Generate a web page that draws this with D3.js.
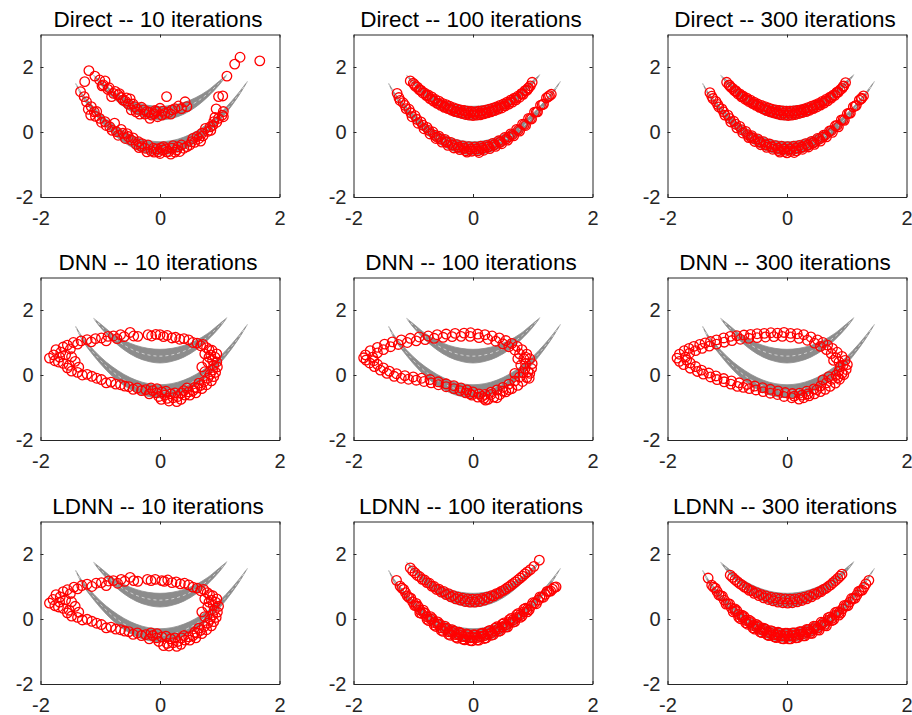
<!DOCTYPE html>
<html>
<head>
<meta charset="UTF-8">
<title>Direct / DNN / LDNN samples</title>
<script src="https://cdn.jsdelivr.net/npm/d3@7/dist/d3.min.js"></script>
<style>
body { margin: 0; background: #fff; }
</style>
</head>
<body>
<div id="chart"></div>
<script>
var methods = ["Direct", "DNN", "LDNN"];
var iterations = [10, 100, 300];
var xTicks = [-2, 0, 2];
var yTicks = [-2, 0, 2];

// gray target crescents: x, lower edge, upper edge
var upperMoonX  = [-1.11, -1.0, -0.8, -0.6, -0.4, -0.2, 0.0, 0.2, 0.4, 0.6, 0.8, 1.0, 1.12];
var upperMoonLo = [1.74, 1.47, 1.08, 0.77, 0.55, 0.42, 0.37, 0.42, 0.55, 0.77, 1.08, 1.47, 1.76];
var upperMoonHi = [1.74, 1.58, 1.28, 1.06, 0.91, 0.82, 0.79, 0.82, 0.91, 1.06, 1.28, 1.58, 1.76];
var lowerMoonX  = [-1.41, -1.3, -1.1, -0.9, -0.7, -0.5, -0.3, -0.1, 0.1, 0.3, 0.5, 0.7, 0.9, 1.1, 1.3, 1.46];
var lowerMoonLo = [1.49, 1.07, 0.57, 0.15, -0.19, -0.44, -0.61, -0.69, -0.69, -0.61, -0.44, -0.19, 0.15, 0.57, 1.07, 1.55];
var lowerMoonHi = [1.49, 1.17, 0.75, 0.40, 0.13, -0.08, -0.22, -0.29, -0.29, -0.22, -0.08, 0.13, 0.40, 0.75, 1.17, 1.55];

// red sample points [x, y]
var direct10 = [
  [-1.19,1.89],[-1.26,1.55],[-1.09,1.72],[-1.01,1.60],[-0.92,1.57],[-0.97,1.42],[-0.87,1.31],[-0.78,1.19],[-0.81,1.09],[-0.70,1.14],
  [-0.62,0.98],[-0.50,1.02],[-0.53,0.86],[-0.42,0.78],[-0.48,0.68],[-0.31,0.76],[-0.22,0.63],[-0.14,0.52],[-0.06,0.63],[0.00,0.73],
  [0.11,1.09],[0.08,0.57],[0.20,0.68],[0.31,0.80],[0.42,0.93],[0.45,0.78],[-0.17,0.42],[-0.34,0.55],[-0.95,1.45],[-0.85,1.36],
  [-0.75,1.25],[-0.65,1.06],[-0.58,0.95],[-0.45,0.86],[-0.38,0.70],[-0.27,0.68],[-0.18,0.60],[-0.10,0.56],[0.05,0.64],[0.14,0.60],
  [0.25,0.72],[0.36,0.72],[0.03,0.52],[-0.04,0.47],[-0.68,1.18],[-0.56,1.05],[-0.25,0.55],[-0.08,0.66],[0.18,0.55],[-0.40,0.62],
  [1.12,1.72],[1.25,2.09],[1.34,2.30],[1.67,2.19],[0.98,1.09],[1.05,1.11],[0.94,0.71],[1.06,0.47],
  [-1.33,1.24],[-1.27,1.09],[-1.23,0.93],[-1.15,0.78],[-1.16,0.52],[-1.06,0.63],[-1.01,0.42],[-0.92,0.32],[-0.84,0.16],[-0.76,0.27],
  [-0.73,0.01],[-0.62,-0.04],[-0.53,-0.14],[-0.48,-0.25],[-0.36,-0.30],[-0.31,-0.45],[-0.22,-0.61],[-0.20,-0.40],[-0.11,-0.50],[-0.03,-0.61],
  [0.06,-0.45],[0.11,-0.61],[0.20,-0.50],[0.28,-0.55],[0.36,-0.40],[0.45,-0.45],[0.53,-0.30],[0.62,-0.14],[0.70,-0.04],[0.76,0.11],
  [0.84,0.16],[0.90,0.32],[0.98,0.42],[1.04,0.52],[1.06,0.63],
  [-0.40,-0.38],[-0.25,-0.50],[-0.15,-0.58],[-0.05,-0.52],[0.00,-0.66],[0.05,-0.55],[0.15,-0.60],[0.25,-0.62],[0.30,-0.46],[0.40,-0.50],
  [0.50,-0.40],[0.58,-0.32],[0.65,-0.20],[0.72,-0.12],[0.80,0.02],[0.88,0.20],[0.95,0.30],[-0.70,-0.10],[-0.65,0.08],[-0.90,0.20],
  [-1.10,0.62],[-1.20,0.70],[-0.45,-0.18],[-0.30,-0.36],[0.10,-0.52],[-0.10,-0.62],[0.18,-0.68],[-0.58,-0.20],[-0.98,0.30],[-1.08,0.48],
  [0.68,-0.28],[0.85,0.05],[-0.80,0.05],[-0.35,-0.48],[0.22,-0.42],[0.02,-0.48],[0.33,-0.60],[0.55,-0.20],[-0.55,-0.05],[0.92,0.45]
];

var direct100 = [
  [-1.05,1.57],[-1.00,1.50],[-0.96,1.40],[-0.93,1.38],[-0.90,1.30],[-0.87,1.28],[-0.84,1.20],[-0.81,1.20],[-0.78,1.12],[-0.75,1.14],
  [-0.72,1.03],[-0.69,1.08],[-0.66,0.95],[-0.63,1.00],[-0.60,0.88],[-0.57,0.95],[-0.54,0.82],[-0.51,0.88],[-0.48,0.76],[-0.45,0.84],
  [-0.42,0.72],[-0.39,0.79],[-0.36,0.67],[-0.33,0.75],[-0.30,0.63],[-0.27,0.71],[-0.24,0.60],[-0.21,0.68],[-0.18,0.57],[-0.15,0.66],
  [-0.12,0.54],[-0.09,0.64],[-0.06,0.52],[-0.03,0.63],[0.00,0.51],[0.03,0.62],[0.06,0.52],[0.09,0.64],[0.12,0.53],[0.15,0.65],
  [0.18,0.56],[0.21,0.67],[0.24,0.59],[0.27,0.70],[0.30,0.62],[0.33,0.73],[0.36,0.66],[0.39,0.77],[0.42,0.70],[0.45,0.82],
  [0.48,0.74],[0.51,0.86],[0.54,0.80],[0.57,0.92],[0.60,0.86],[0.63,0.98],[0.66,0.92],[0.69,1.04],[0.72,0.99],[0.75,1.10],
  [0.78,1.07],[0.81,1.18],[0.84,1.16],[0.87,1.27],[0.90,1.28],[0.93,1.36],[0.96,1.42],[0.99,1.53],
  [-1.27,1.19],[-1.22,0.97],[-1.17,0.90],[-1.12,0.72],[-1.07,0.70],[-1.02,0.47],[-0.97,0.50],[-0.92,0.27],[-0.87,0.31],[-0.82,0.10],
  [-0.77,0.14],[-0.72,-0.06],[-0.67,0.00],[-0.62,-0.20],[-0.57,-0.13],[-0.52,-0.31],[-0.47,-0.23],[-0.42,-0.41],[-0.37,-0.32],[-0.32,-0.49],
  [-0.27,-0.39],[-0.22,-0.54],[-0.17,-0.43],[-0.12,-0.58],[-0.07,-0.45],[-0.02,-0.59],[0.03,-0.46],[0.08,-0.58],[0.13,-0.44],[0.18,-0.56],
  [0.23,-0.41],[0.28,-0.51],[0.33,-0.35],[0.38,-0.44],[0.43,-0.27],[0.48,-0.36],[0.53,-0.17],[0.58,-0.25],[0.63,-0.06],[0.68,-0.12],
  [0.73,0.08],[0.78,0.03],[0.83,0.24],[0.88,0.20],[0.93,0.42],[0.98,0.40],[1.03,0.61],[1.08,0.62],[1.13,0.82],[1.18,0.86],
  [1.23,1.05],[1.28,1.12],[1.31,1.16],
  [-0.45,-0.30],[-0.35,-0.40],[-0.25,-0.47],[-0.15,-0.50],[-0.05,-0.53],[0.05,-0.52],[0.15,-0.50],[0.25,-0.46],[0.35,-0.40],[0.45,-0.31],
  [-0.60,-0.16],[0.60,-0.15],[-0.10,-0.62],[0.10,-0.63]
];
var direct100Fill = [
  [-1.24,1.06],[-1.14,0.82],[-1.04,0.59],[-0.94,0.39],[-0.84,0.21],[-0.74,0.05],[-0.64,-0.10],[-0.54,-0.22],[-0.44,-0.32],[-0.34,-0.40],
  [-0.24,-0.46],[-0.14,-0.50],[-0.04,-0.52],[0.06,-0.52],[0.16,-0.50],[0.26,-0.45],[0.36,-0.39],[0.46,-0.31],[0.56,-0.21],[0.66,-0.08],
  [0.76,0.06],[0.86,0.23],[0.96,0.41],[1.06,0.62],[1.16,0.84],[1.26,1.09],
  [-0.98,1.46],[-0.88,1.29],[-0.78,1.14],[-0.68,1.00],[-0.58,0.88],[-0.48,0.79],[-0.38,0.71],[-0.28,0.64],[-0.18,0.60],[-0.08,0.58],
  [0.02,0.57],[0.12,0.58],[0.22,0.61],[0.32,0.66],[0.42,0.73],[0.52,0.81],[0.62,0.92],[0.72,1.04],[0.82,1.18],[0.92,1.34]
];

var direct300 = [
  [-1.01,1.53],[-0.97,1.45],[-0.94,1.38],[-0.91,1.34],[-0.88,1.27],[-0.85,1.24],[-0.82,1.17],[-0.79,1.17],[-0.76,1.08],[-0.73,1.10],
  [-0.70,1.01],[-0.67,1.04],[-0.64,0.94],[-0.61,0.98],[-0.58,0.88],[-0.55,0.92],[-0.52,0.82],[-0.49,0.86],[-0.46,0.76],[-0.43,0.82],
  [-0.40,0.71],[-0.37,0.78],[-0.34,0.66],[-0.31,0.74],[-0.28,0.62],[-0.25,0.70],[-0.22,0.59],[-0.19,0.68],[-0.16,0.56],[-0.13,0.66],
  [-0.10,0.53],[-0.07,0.65],[-0.04,0.52],[-0.01,0.64],[0.02,0.51],[0.05,0.64],[0.08,0.52],[0.11,0.65],[0.14,0.54],[0.17,0.66],
  [0.20,0.57],[0.23,0.68],[0.26,0.60],[0.29,0.71],[0.32,0.63],[0.35,0.75],[0.38,0.67],[0.41,0.79],[0.44,0.72],[0.47,0.83],
  [0.50,0.77],[0.53,0.88],[0.56,0.83],[0.59,0.94],[0.62,0.89],[0.65,1.00],[0.68,0.96],[0.71,1.06],[0.74,1.04],[0.77,1.13],
  [0.80,1.13],[0.83,1.21],[0.86,1.23],[0.89,1.30],[0.92,1.34],[0.95,1.42],[0.98,1.52],
  [-1.29,1.21],[-1.24,1.03],[-1.19,0.94],[-1.14,0.77],[-1.09,0.71],[-1.04,0.52],[-0.99,0.52],[-0.94,0.31],[-0.89,0.33],[-0.84,0.13],
  [-0.79,0.17],[-0.74,-0.03],[-0.69,0.02],[-0.64,-0.17],[-0.59,-0.11],[-0.54,-0.29],[-0.49,-0.21],[-0.44,-0.39],[-0.39,-0.30],[-0.34,-0.47],
  [-0.29,-0.37],[-0.24,-0.53],[-0.19,-0.42],[-0.14,-0.57],[-0.09,-0.44],[-0.04,-0.60],[0.01,-0.45],[0.06,-0.60],[0.11,-0.44],[0.16,-0.58],
  [0.21,-0.41],[0.26,-0.53],[0.31,-0.36],[0.36,-0.46],[0.41,-0.29],[0.46,-0.38],[0.51,-0.20],[0.56,-0.28],[0.61,-0.10],[0.66,-0.15],
  [0.71,0.03],[0.76,-0.01],[0.81,0.19],[0.86,0.16],[0.91,0.37],[0.96,0.36],[1.01,0.56],[1.06,0.58],[1.11,0.77],[1.16,0.82],
  [1.21,0.98],[1.25,1.04],[1.28,1.11],
  [-0.45,-0.32],[-0.35,-0.40],[-0.25,-0.46],[-0.15,-0.50],[-0.05,-0.52],[0.05,-0.52],[0.15,-0.50],[0.25,-0.47],[0.35,-0.41],[0.45,-0.33],
  [-0.60,-0.17],[0.60,-0.16],[0.00,-0.64],[0.12,-0.63],[-0.12,-0.62]
];
var direct300Fill = [
  [-1.26,1.10],[-1.16,0.85],[-1.06,0.62],[-0.96,0.42],[-0.86,0.24],[-0.76,0.07],[-0.66,-0.08],[-0.56,-0.20],[-0.46,-0.30],[-0.36,-0.39],
  [-0.26,-0.45],[-0.16,-0.50],[-0.06,-0.52],[0.04,-0.52],[0.14,-0.50],[0.24,-0.46],[0.34,-0.40],[0.44,-0.32],[0.54,-0.22],[0.64,-0.10],
  [0.74,0.04],[0.84,0.20],[0.94,0.38],[1.04,0.58],[1.14,0.80],[1.24,1.02],
  [-0.96,1.43],[-0.86,1.27],[-0.76,1.12],[-0.66,0.99],[-0.56,0.87],[-0.46,0.78],[-0.36,0.70],[-0.26,0.64],[-0.16,0.60],[-0.06,0.58],
  [0.04,0.58],[0.14,0.59],[0.24,0.63],[0.34,0.68],[0.44,0.75],[0.54,0.84],[0.64,0.95],[0.74,1.08],[0.84,1.23],[0.94,1.40]
];

var dnn10 = [
  [-1.85,0.52],[-1.78,0.62],[-1.74,0.78],[-1.66,0.70],[-1.62,0.86],[-1.55,0.92],[-1.50,0.80],[-1.45,1.00],[-1.38,0.95],[-1.32,1.05],
  [-1.22,1.09],[-1.15,1.02],[-1.08,1.12],[-0.98,1.14],[-0.90,1.05],[-0.87,1.19],[-0.78,1.20],[-0.72,1.12],[-0.66,1.24],[-0.60,1.18],
  [-0.50,1.31],[-0.44,1.20],[-0.37,1.19],
  [-0.20,1.24],[-0.14,1.20],[-0.07,1.25],[0.00,1.24],[0.06,1.18],[0.12,1.22],[0.20,1.14],[0.26,1.16],[0.33,1.10],[0.40,1.12],[0.48,1.08],
  [0.55,1.00],[0.62,0.98],[0.68,0.90],[0.72,0.94],[0.78,0.84],[0.82,0.78],[0.87,0.76],[0.85,0.62],[0.92,0.55],[0.88,0.45],
  [0.95,0.40],[0.90,0.30],[0.96,0.25],[0.88,0.15],[0.93,0.08],[0.84,0.02],[0.90,-0.05],[0.80,-0.10],[0.86,-0.18],[0.74,-0.20],
  [0.78,-0.30],[0.68,-0.32],[0.62,-0.40],[0.70,-0.42],[0.55,-0.48],[0.60,-0.55],
  [0.48,-0.52],[0.42,-0.62],[0.36,-0.55],[0.30,-0.66],[0.28,-0.82],[0.22,-0.70],[0.18,-0.58],[0.12,-0.72],[0.08,-0.62],[0.03,-0.52],
  [-0.02,-0.66],[-0.06,-0.55],[-0.12,-0.48],[-0.18,-0.58],[-0.24,-0.45],[-0.31,-0.48],[-0.38,-0.40],[-0.45,-0.44],[-0.52,-0.36],[-0.59,-0.34],
  [-0.66,-0.30],[-0.74,-0.28],[-0.82,-0.22],[-0.90,-0.24],[-0.98,-0.14],[-1.06,-0.10],[-1.14,-0.04],[-1.22,0.02],[-1.30,0.00],[-1.38,0.08],
  [-1.48,0.12],[-1.55,0.22],[-1.62,0.36],[-1.70,0.40],[-1.76,0.44],
  [-1.58,0.62],[-1.48,0.56],[-1.42,0.42],[-1.52,0.30],[-1.36,0.24],[-1.68,0.55],
  [0.40,-0.48],[0.25,-0.55],[0.10,-0.50],[-0.05,-0.42],[0.50,-0.62],[0.15,-0.80],[0.65,-0.25],[0.75,0.10],[0.80,0.40],[0.75,0.65],
  [0.95,0.65],[-0.15,-0.40],[0.35,-0.75],[0.02,-0.75],[0.70,0.25],[0.82,0.55],[0.58,-0.38],[0.45,-0.40]
];

var dnn100 = [
  [-1.83,0.53],[-1.80,0.62],[-1.72,0.75],[-1.60,0.85],[-1.48,0.95],[-1.35,1.02],[-1.20,1.08],[-1.05,1.13],[-0.90,1.17],[-0.75,1.20],
  [-0.60,1.24],[-0.45,1.26],[-0.30,1.28],[-0.15,1.29],[-0.04,1.30],[0.08,1.26],[0.20,1.24],[0.32,1.20],[0.44,1.14],[0.55,1.06],
  [0.65,0.97],[0.74,0.88],[0.82,0.78],[0.90,0.64],[0.95,0.50],[0.99,0.35],[0.98,0.20],[0.95,0.05],[0.90,-0.08],[0.83,-0.20],
  [0.75,-0.32],[0.65,-0.42],[0.55,-0.52],[0.45,-0.60],[0.35,-0.68],[0.25,-0.75],[0.18,-0.72],[0.08,-0.68],[-0.02,-0.62],[-0.12,-0.55],
  [-0.22,-0.48],[-0.32,-0.42],[-0.45,-0.36],[-0.58,-0.30],[-0.70,-0.24],[-0.82,-0.20],[-0.95,-0.16],[-1.08,-0.13],[-1.20,-0.10],[-1.32,-0.04],
  [-1.44,0.05],[-1.55,0.15],[-1.65,0.26],[-1.73,0.37],[-1.79,0.46],
  [-1.68,0.55],[-1.60,0.68],[-1.50,0.78],[-1.38,0.87],[-1.25,0.94],[-1.10,1.00],[-0.95,1.05],[-0.80,1.09],[-0.65,1.13],[-0.50,1.16],
  [-0.35,1.18],[-0.20,1.19],[-0.05,1.19],[0.10,1.15],[0.25,1.10],[0.38,1.04],[0.50,0.96],[0.60,0.87],[0.70,0.77],[0.78,0.65],
  [0.85,0.50],[0.88,0.35],[0.87,0.20],[0.84,0.07],[0.78,-0.06],[0.70,-0.18],[0.60,-0.28],[0.50,-0.38],[0.40,-0.46],[0.30,-0.53],
  [0.20,-0.60],[0.10,-0.58],[0.00,-0.52],[-0.10,-0.46],[-0.20,-0.40],[-0.32,-0.33],[-0.45,-0.27],[-0.58,-0.21],[-0.72,-0.14],[-0.86,-0.10],
  [-1.00,-0.06],[-1.14,-0.02],[-1.28,0.04],[-1.40,0.12],[-1.50,0.22],[-1.60,0.33],[-1.66,0.44],
  [0.92,0.10],[0.80,0.30],[0.75,0.50],[0.60,-0.45],[0.30,-0.60],[0.40,-0.70],[0.21,-0.77],[0.88,0.55],[0.70,0.05],[0.50,-0.50],
  [0.15,-0.66],[-0.05,-0.58],[0.94,-0.10]
];

var dnn300 = [
  [-1.84,0.52],[-1.80,0.64],[-1.72,0.75],[-1.64,0.82],[-1.56,0.88],[-1.46,0.94],[-1.37,0.99],[-1.28,1.03],[-1.18,1.08],[-1.06,1.14],
  [-0.95,1.19],[-0.84,1.21],[-0.72,1.23],[-0.61,1.25],[-0.50,1.27],[-0.38,1.28],[-0.27,1.30],[-0.16,1.29],[-0.05,1.31],[0.06,1.28],
  [0.17,1.27],[0.28,1.24],[0.40,1.17],[0.51,1.08],[0.60,1.00],[0.68,0.92],[0.76,0.82],[0.84,0.70],[0.92,0.57],[0.97,0.45],
  [1.01,0.32],[0.99,0.17],[0.95,0.01],[0.88,-0.13],[0.81,-0.25],[0.72,-0.35],[0.64,-0.44],[0.56,-0.51],[0.46,-0.58],[0.37,-0.64],
  [0.28,-0.70],[0.20,-0.74],[0.08,-0.70],[-0.05,-0.66],[-0.16,-0.60],[-0.28,-0.56],[-0.40,-0.51],[-0.52,-0.46],[-0.63,-0.42],[-0.73,-0.38],
  [-0.83,-0.35],[-0.94,-0.28],[-1.05,-0.21],[-1.17,-0.14],[-1.28,-0.06],[-1.40,0.03],[-1.50,0.11],[-1.62,0.21],[-1.73,0.32],[-1.80,0.42],
  [-1.70,0.55],[-1.63,0.67],[-1.53,0.75],[-1.42,0.82],[-1.30,0.89],[-1.18,0.95],[-1.05,1.01],[-0.92,1.06],[-0.78,1.10],[-0.64,1.13],
  [-0.50,1.15],[-0.36,1.17],[-0.22,1.18],[-0.08,1.19],[0.06,1.17],[0.20,1.13],[0.34,1.07],[0.46,0.98],[0.56,0.88],[0.66,0.78],
  [0.74,0.66],[0.82,0.53],[0.87,0.40],[0.89,0.26],[0.87,0.12],[0.82,-0.01],[0.75,-0.13],[0.66,-0.24],[0.56,-0.34],[0.45,-0.43],
  [0.33,-0.50],[0.21,-0.56],[0.09,-0.57],[-0.03,-0.54],[-0.15,-0.49],[-0.28,-0.44],[-0.41,-0.39],[-0.54,-0.34],[-0.67,-0.29],[-0.80,-0.24],
  [-0.93,-0.18],[-1.06,-0.11],[-1.19,-0.03],[-1.31,0.06],[-1.43,0.15],[-1.53,0.26],[-1.62,0.37],[-1.68,0.46],
  [0.92,0.05],[0.78,0.45],[0.70,-0.05],[0.50,-0.45],[0.35,-0.58],[0.12,-0.65],[0.25,-0.62],[0.60,-0.15],[0.94,0.30],[0.85,-0.08]
];

var ldnn10 = [
  [-1.85,0.49],[-1.79,0.60],[-1.74,0.75],[-1.67,0.68],[-1.62,0.84],[-1.55,0.90],[-1.50,0.78],[-1.44,0.98],[-1.38,0.93],[-1.31,1.03],
  [-1.22,1.07],[-1.14,1.00],[-1.07,1.10],[-0.98,1.12],[-0.90,1.03],[-0.86,1.17],[-0.78,1.18],[-0.71,1.10],[-0.65,1.22],[-0.59,1.16],
  [-0.50,1.28],[-0.44,1.18],[-0.37,1.16],
  [-0.21,1.22],[-0.15,1.18],[-0.08,1.22],[0.03,1.18],[0.07,1.16],[0.13,1.20],[0.20,1.12],[0.27,1.14],[0.34,1.08],[0.41,1.10],[0.48,1.05],
  [0.55,0.98],[0.62,0.95],[0.68,0.87],[0.73,0.91],[0.79,0.81],[0.83,0.75],[0.88,0.72],[0.86,0.58],[0.93,0.52],[0.89,0.42],
  [0.98,0.39],[0.91,0.27],[0.96,0.21],[0.88,0.12],[0.94,0.05],[0.84,-0.01],[0.90,-0.08],[0.80,-0.13],[0.86,-0.21],[0.74,-0.23],
  [0.78,-0.33],[0.68,-0.35],[0.62,-0.43],[0.70,-0.45],[0.55,-0.51],[0.60,-0.58],
  [0.48,-0.55],[0.42,-0.65],[0.36,-0.58],[0.30,-0.69],[0.28,-0.84],[0.22,-0.73],[0.18,-0.61],[0.12,-0.75],[0.06,-0.82],[0.03,-0.55],
  [-0.02,-0.69],[-0.06,-0.58],[-0.12,-0.51],[-0.18,-0.61],[-0.24,-0.48],[-0.31,-0.51],[-0.38,-0.43],[-0.45,-0.47],[-0.52,-0.39],[-0.59,-0.37],
  [-0.66,-0.33],[-0.74,-0.31],[-0.82,-0.25],[-0.90,-0.27],[-0.98,-0.17],[-1.06,-0.13],[-1.14,-0.07],[-1.22,-0.01],[-1.30,-0.03],[-1.38,0.05],
  [-1.48,0.09],[-1.55,0.19],[-1.62,0.33],[-1.70,0.37],[-1.76,0.41],
  [-1.58,0.59],[-1.48,0.53],[-1.42,0.39],[-1.52,0.27],[-1.36,0.21],[-1.68,0.52],
  [0.40,-0.51],[0.25,-0.58],[0.10,-0.53],[-0.05,-0.45],[0.50,-0.65],[0.15,-0.83],[0.65,-0.28],[0.75,0.07],[0.80,0.37],[0.75,0.62],
  [0.95,0.62],[-0.15,-0.43],[0.35,-0.78],[0.70,0.22],[0.82,0.52],[0.58,-0.41]
];

var ldnn100 = [
  [-1.05,1.57],[-1.01,1.48],[-0.97,1.42],[-0.93,1.34],[-0.89,1.30],[-0.85,1.22],[-0.81,1.20],[-0.77,1.12],[-0.73,1.10],[-0.69,1.01],
  [-0.65,1.00],[-0.61,0.91],[-0.57,0.92],[-0.53,0.83],[-0.49,0.85],[-0.45,0.75],[-0.41,0.78],[-0.37,0.68],[-0.33,0.72],[-0.29,0.62],
  [-0.25,0.67],[-0.21,0.58],[-0.17,0.64],[-0.13,0.54],[-0.09,0.62],[-0.05,0.52],[-0.01,0.61],[0.03,0.52],[0.07,0.61],[0.11,0.54],
  [0.15,0.63],[0.19,0.58],[0.23,0.67],[0.27,0.64],[0.31,0.72],[0.35,0.71],[0.39,0.78],[0.43,0.79],[0.47,0.85],[0.51,0.88],
  [0.55,0.93],[0.59,0.98],[0.63,1.03],[0.67,1.09],[0.71,1.14],[0.75,1.20],[0.79,1.26],[0.83,1.32],[0.87,1.39],[0.91,1.45],
  [0.96,1.52],[1.02,1.62],[1.11,1.81],
  [-1.28,1.19],[-1.22,1.01],[-1.16,0.91],[-1.10,0.71],[-1.04,0.64],[-0.98,0.42],[-0.92,0.39],[-0.86,0.17],[-0.80,0.18],[-0.74,-0.05],
  [-0.68,0.01],[-0.62,-0.23],[-0.56,-0.15],[-0.50,-0.38],[-0.44,-0.28],[-0.38,-0.50],[-0.32,-0.37],[-0.26,-0.59],[-0.20,-0.44],[-0.14,-0.64],
  [-0.08,-0.48],[-0.02,-0.67],[0.04,-0.49],[0.10,-0.65],[0.16,-0.44],[0.22,-0.58],[0.28,-0.35],[0.34,-0.48],[0.40,-0.24],[0.46,-0.36],
  [0.52,-0.12],[0.58,-0.24],[0.64,0.02],[0.70,-0.08],[0.76,0.17],[0.82,0.09],[0.88,0.33],[0.94,0.28],[1.00,0.50],[1.06,0.47],
  [1.12,0.68],[1.18,0.67],[1.24,0.85],[1.30,0.86],[1.36,0.97],[1.39,0.99],
  [-1.13,0.81],[-1.01,0.53],[-0.89,0.28],[-0.77,0.07],[-0.65,-0.11],[-0.53,-0.27],[-0.41,-0.39],[-0.29,-0.48],[-0.17,-0.54],[-0.05,-0.58],
  [0.07,-0.57],[0.19,-0.51],[0.31,-0.42],[0.43,-0.30],[0.55,-0.18],[0.67,-0.03],[0.79,0.13],[0.91,0.30],[1.03,0.49],[1.15,0.67],
  [1.27,0.85]
];
var ldnn100Fill = [
  [-1.19,0.95],[-1.07,0.66],[-0.95,0.40],[-0.83,0.20],[-0.71,0.00],[-0.59,-0.16],[-0.47,-0.30],[-0.35,-0.41],[-0.23,-0.49],[-0.11,-0.55],
  [0.01,-0.57],[0.13,-0.54],[0.25,-0.46],[0.37,-0.36],[0.49,-0.24],[0.61,-0.10],[0.73,0.05],[0.85,0.22],[0.97,0.40],[1.09,0.58],
  [1.21,0.76],[1.33,0.92],
  [-0.95,0.48],[-0.83,0.27],[-0.71,0.07],[-0.59,-0.09],[-0.47,-0.22],[-0.35,-0.33],[-0.23,-0.41],[-0.11,-0.46],[0.01,-0.48],[0.13,-0.45],
  [0.25,-0.38],[0.37,-0.28],[0.49,-0.16],[0.61,-0.02],[0.73,0.13],[0.85,0.30],
  [-0.89,0.19],[-0.77,-0.01],[-0.65,-0.19],[-0.53,-0.35],[-0.41,-0.47],[-0.29,-0.56],[-0.17,-0.62],[-0.05,-0.66],[0.07,-0.65],[0.19,-0.60],
  [0.31,-0.50],[0.43,-0.38],[0.55,-0.25],[0.67,-0.10],[0.79,0.05],[0.91,0.22]
];

var ldnn300 = [
  [-0.95,1.35],[-0.91,1.28],[-0.87,1.21],[-0.83,1.15],[-0.79,1.09],[-0.75,1.04],[-0.71,0.98],[-0.67,0.95],[-0.63,0.88],[-0.59,0.87],
  [-0.55,0.79],[-0.51,0.81],[-0.47,0.72],[-0.43,0.75],[-0.39,0.65],[-0.35,0.71],[-0.31,0.60],[-0.27,0.67],[-0.23,0.56],[-0.19,0.65],
  [-0.15,0.52],[-0.11,0.63],[-0.07,0.50],[-0.03,0.62],[0.01,0.49],[0.05,0.61],[0.09,0.50],[0.13,0.62],[0.17,0.53],[0.21,0.64],
  [0.25,0.57],[0.29,0.67],[0.33,0.62],[0.37,0.72],[0.41,0.68],[0.45,0.77],[0.49,0.76],[0.53,0.83],[0.57,0.84],[0.61,0.91],
  [0.65,0.94],[0.69,1.00],[0.73,1.05],[0.77,1.12],[0.81,1.18],[0.85,1.25],[0.89,1.32],[0.92,1.38],
  [-1.32,1.26],[-1.26,1.04],[-1.20,0.95],[-1.14,0.74],[-1.08,0.70],[-1.02,0.46],[-0.96,0.46],[-0.90,0.22],[-0.84,0.26],[-0.78,0.01],
  [-0.72,0.08],[-0.66,-0.16],[-0.60,-0.08],[-0.54,-0.31],[-0.48,-0.21],[-0.42,-0.42],[-0.36,-0.31],[-0.30,-0.51],[-0.24,-0.38],[-0.18,-0.57],
  [-0.12,-0.43],[-0.06,-0.61],[0.00,-0.44],[0.06,-0.61],[0.12,-0.43],[0.18,-0.57],[0.24,-0.39],[0.30,-0.52],[0.36,-0.32],[0.42,-0.44],
  [0.48,-0.23],[0.54,-0.34],[0.60,-0.12],[0.66,-0.21],[0.72,0.06],[0.78,-0.02],[0.84,0.22],[0.90,0.18],[0.96,0.42],[1.02,0.41],
  [1.08,0.63],[1.14,0.64],[1.20,0.85],[1.26,0.89],[1.32,1.08],[1.37,1.19],
  [-1.17,0.85],[-1.05,0.58],[-0.93,0.34],[-0.81,0.14],[-0.69,-0.04],[-0.57,-0.20],[-0.45,-0.32],[-0.33,-0.41],[-0.21,-0.48],[-0.09,-0.52],
  [0.03,-0.52],[0.15,-0.50],[0.27,-0.45],[0.39,-0.38],[0.51,-0.28],[0.63,-0.16],[0.75,0.02],[0.87,0.20],[0.99,0.41],[1.11,0.63],
  [1.23,0.87]
];
var ldnn300Fill = [
  [-1.23,0.98],[-1.11,0.72],[-0.99,0.47],[-0.87,0.25],[-0.75,0.06],[-0.63,-0.10],[-0.51,-0.24],[-0.39,-0.35],[-0.27,-0.44],[-0.15,-0.49],
  [-0.03,-0.52],[0.09,-0.51],[0.21,-0.47],[0.33,-0.40],[0.45,-0.30],[0.57,-0.18],[0.69,-0.04],[0.81,0.12],[0.93,0.31],[1.05,0.52],
  [1.17,0.74],[1.29,0.98],
  [-0.87,0.31],[-0.75,0.12],[-0.63,-0.04],[-0.51,-0.17],[-0.39,-0.28],[-0.27,-0.36],[-0.15,-0.41],[-0.03,-0.44],[0.09,-0.43],[0.21,-0.39],
  [0.33,-0.32],[0.45,-0.22],[0.57,-0.10],[0.69,0.04],[0.81,0.20],
  [-0.81,0.06],[-0.69,-0.12],[-0.57,-0.27],[-0.45,-0.40],[-0.33,-0.49],[-0.21,-0.55],[-0.09,-0.60],[0.03,-0.61],[0.15,-0.58],[0.27,-0.52],
  [0.39,-0.44],[0.51,-0.33],[0.63,-0.20],[0.75,-0.05],[0.87,0.12]
];

var samples = [
  [direct10, direct100.concat(direct100Fill), direct300.concat(direct300Fill)],
  [dnn10, dnn100, dnn300],
  [ldnn10, ldnn100.concat(ldnn100Fill), ldnn300.concat(ldnn300Fill)]
];

var panelLeft = [40, 353, 667];
var panelTop = [34, 277, 521];
var panelW = 239, panelH = 162.5;
var fontFam = "'Liberation Sans', Arial, Helvetica, sans-serif";
var axisColor = "#262626";

window.onload = function () {
  var svg = d3.select("#chart").append("svg")
    .attr("width", 912)
    .attr("height", 715);

  var x = d3.scaleLinear().domain([-2, 2]).range([0, panelW]);
  var y = d3.scaleLinear().domain([-2, 3]).range([panelH, 0]);

  var moons = [
    d3.zip(upperMoonX, upperMoonLo, upperMoonHi),
    d3.zip(lowerMoonX, lowerMoonLo, lowerMoonHi)
  ];

  var moonArea = d3.area()
    .x(function (d) { return x(d[0]); })
    .y0(function (d) { return y(d[1]); })
    .y1(function (d) { return y(d[2]); })
    .curve(d3.curveCatmullRom);

  var moonMid = d3.line()
    .x(function (d) { return x(d[0]); })
    .y(function (d) { return y((d[1] + d[2]) / 2); })
    .curve(d3.curveCatmullRom);

  function styleAxis(sel) {
    sel.attr("font-size", 20).attr("font-family", fontFam);
    sel.select(".domain").attr("stroke", axisColor);
    sel.selectAll(".tick line").attr("stroke", axisColor);
    sel.selectAll(".tick text").attr("fill", axisColor);
  }

  for (var r = 0; r < 3; r++) {
    for (var c = 0; c < 3; c++) {
      var g = svg.append("g")
        .attr("transform", "translate(" + (panelLeft[c] + 0.5) + "," + (panelTop[r] + 0.5) + ")");

      g.selectAll("path.moon").data(moons).enter().append("path")
        .attr("class", "moon")
        .attr("d", moonArea)
        .attr("fill", "#8c8c8c")
        .attr("stroke", "#8c8c8c")
        .attr("stroke-width", 0.8);

      g.selectAll("path.mid").data(moons).enter().append("path")
        .attr("class", "mid")
        .attr("d", moonMid)
        .attr("fill", "none")
        .attr("stroke", "#ffffff")
        .attr("stroke-opacity", 0.75)
        .attr("stroke-width", 0.8)
        .attr("stroke-dasharray", "3,3");

      g.selectAll("circle").data(samples[r][c]).enter().append("circle")
        .attr("cx", function (d) { return x(d[0]); })
        .attr("cy", function (d) { return y(d[1]); })
        .attr("r", 4.8)
        .attr("fill", "none")
        .attr("stroke", "#ff0000")
        .attr("stroke-width", 1.3);

      g.append("g")
        .attr("transform", "translate(0," + panelH + ")")
        .call(d3.axisBottom(x).tickValues(xTicks).tickSizeInner(-3).tickSizeOuter(0)
          .tickPadding(14).tickFormat(String))
        .call(styleAxis);
      g.append("g")
        .call(d3.axisTop(x).tickValues(xTicks).tickSizeInner(-3).tickSizeOuter(0).tickFormat(""))
        .call(styleAxis);
      g.append("g")
        .call(d3.axisLeft(y).tickValues(yTicks).tickSizeInner(-3).tickSizeOuter(0)
          .tickPadding(7).tickFormat(String))
        .call(styleAxis);
      g.append("g")
        .attr("transform", "translate(" + panelW + ",0)")
        .call(d3.axisRight(y).tickValues(yTicks).tickSizeInner(-3).tickSizeOuter(0).tickFormat(""))
        .call(styleAxis);

      g.append("text")
        .attr("x", panelW / 2 - 2)
        .attr("y", -8)
        .attr("text-anchor", "middle")
        .attr("font-family", fontFam)
        .attr("font-size", 22.5)
        .attr("fill", "#000")
        .text(methods[r] + " -- " + iterations[c] + " iterations");
    }
  }
};
</script>
</body>
</html>
